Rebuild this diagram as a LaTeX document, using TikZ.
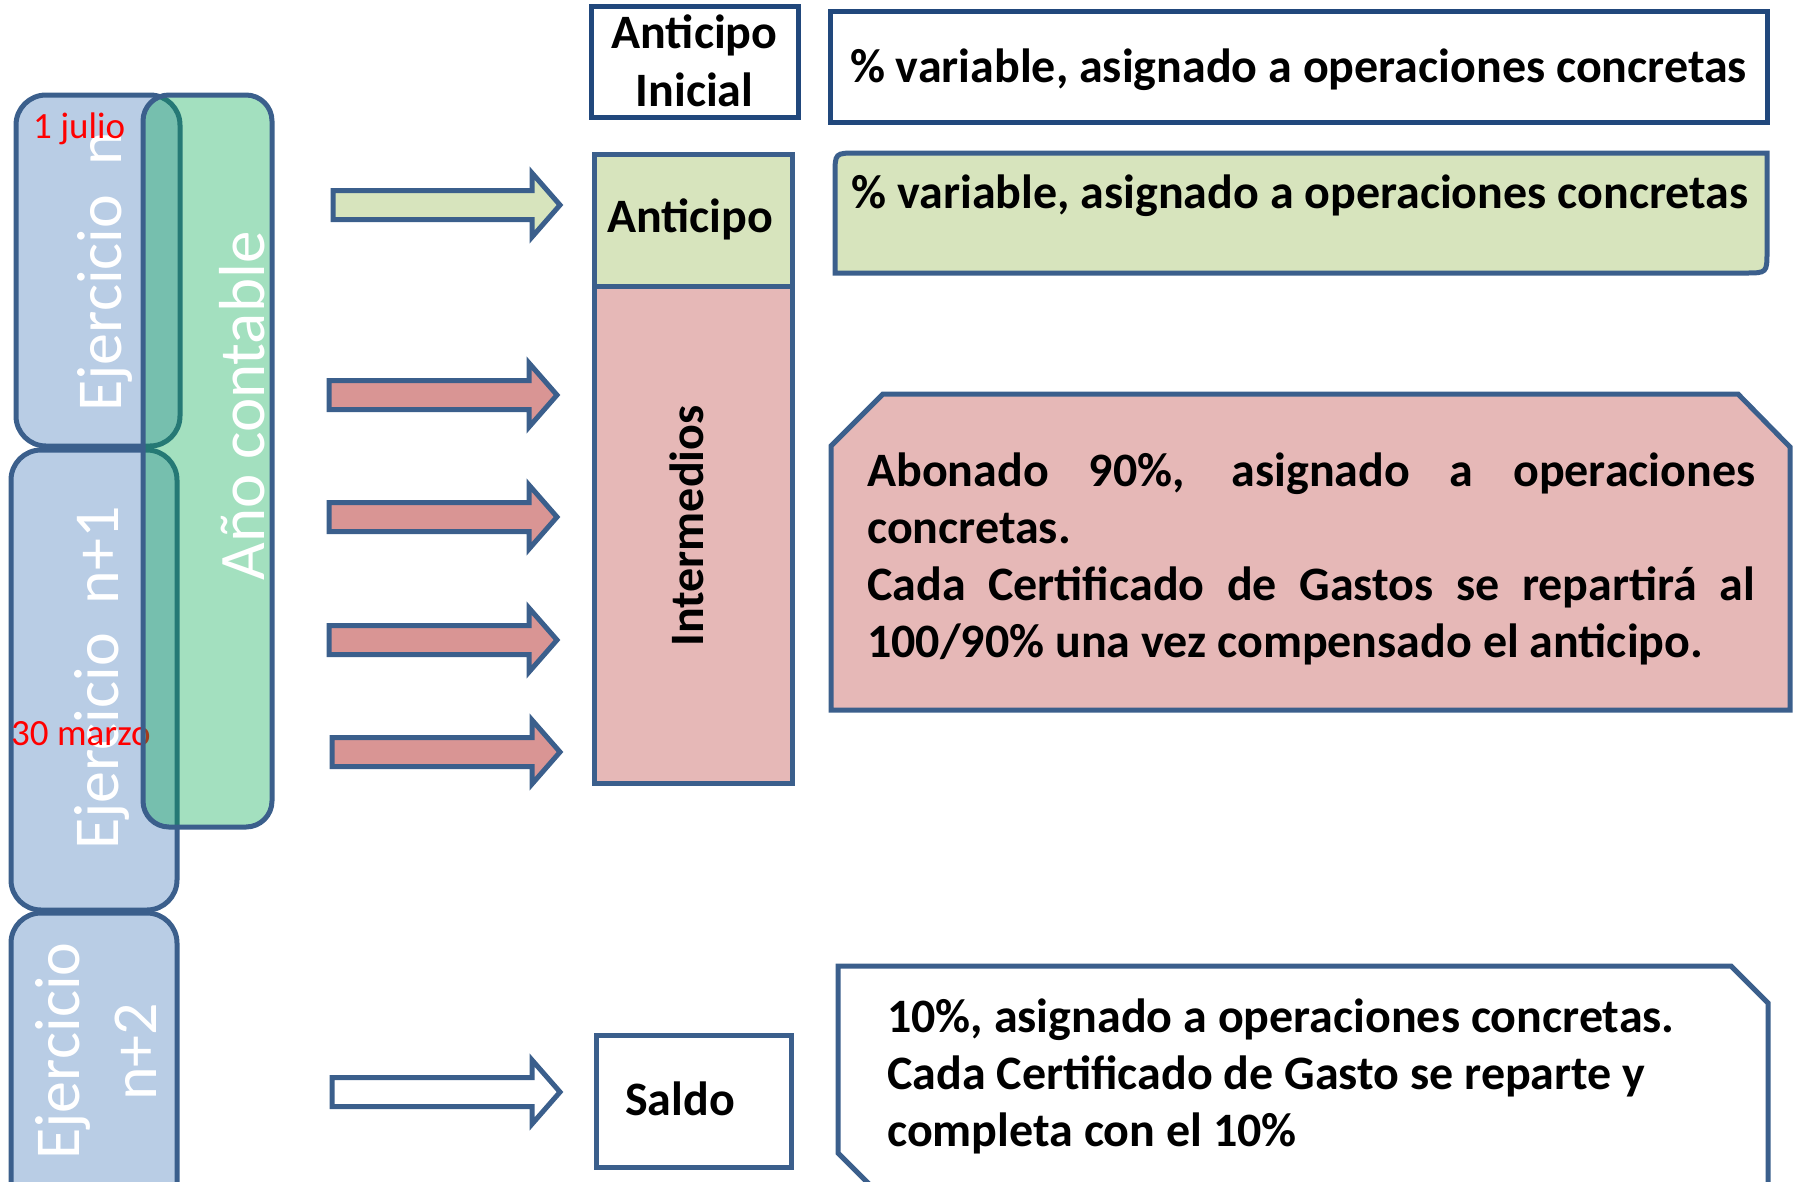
\documentclass[tikz,border=0pt]{standalone}
\usepackage{fontspec}
\setmainfont{Carlito}
\definecolor{bord}{RGB}{59,95,140}
\definecolor{bordd}{RGB}{33,72,124}
\definecolor{blfill}{RGB}{185,205,229}
\definecolor{grnA}{RGB}{0,168,78}
\definecolor{lgreen}{RGB}{215,228,189}
\definecolor{lpink}{RGB}{230,184,183}
\definecolor{dpink}{RGB}{217,149,148}
\tikzset{
 bline/.style={draw=bord, line width=5pt, line join=miter},
 ejer/.style={bline, fill=blfill, rounded corners=30pt, inner sep=0pt},
 anobox/.style={draw=bord, line width=5pt, fill=grnA, fill opacity=0.36, rounded corners=26pt, inner sep=0pt},
 sqbox/.style={bline, inner sep=0pt},
 wtxt/.style={text=white, font=\fontsize{64}{72}\selectfont, inner sep=0pt, rotate=90, anchor=base},
 rtxt/.style={text=red, font=\fontsize{37}{43}\selectfont, inner sep=0pt, anchor=base west},
 btxt/.style={font=\fontsize{48}{57}\selectfont\bfseries, inner sep=0pt, anchor=base},
}
\newcommand{\myarrow}[4]{%
 \draw[bline, fill=#1] (#3,#2-14.5) -- (#4-28,#2-14.5) -- (#4-28,#2-32) -- (#4,#2) -- (#4-28,#2+32) -- (#4-28,#2+14.5) -- (#3,#2+14.5) -- cycle;}
\begin{document}
\begin{tikzpicture}[x=1pt,y=-1pt]
\useasboundingbox (0,0) rectangle (1793,1181);
% left column
\node[ejer, minimum width=164pt, minimum height=351pt] (ejn) at (98,270.5) {};
\node[ejer, minimum width=166pt, minimum height=460pt] (ejn1) at (94,680) {};
\node[ejer, minimum width=166pt, minimum height=300pt] (ejn2) at (94,1063) {};
\node[wtxt] (ejnt) at (121,272) {Ejercicio\ \ n};
\node[wtxt] (ejn1t) at (118,678) {Ejercicio\ \ n+1};
\node[wtxt] (ejn2a) at (79,1051) {Ejercicio};
\node[wtxt] (ejn2b) at (156,1052) {n+2};
\node[rtxt] (jul) at (33,138) {1 julio};
\node[rtxt] (mar) at (11,745) {30 marzo};
\node[anobox, minimum width=129pt, minimum height=732pt] (ano) at (207.5,461) {};
\node[wtxt, font=\fontsize{65}{72}\selectfont] (anot) at (264,406) {Año contable};
% middle column
\node[sqbox, draw=bordd, fill=white, minimum width=207pt, minimum height=111pt] (antini) at (694.5,61.5) {};
\node[btxt] (antiniA) at (694.5,48) {Anticipo};
\node[btxt] (antiniB) at (694.5,106) {Inicial};
\node[sqbox, fill=lgreen, minimum width=198pt, minimum height=132pt] (anti) at (693,220) {};
\node[btxt] (antit) at (690,232) {Anticipo};
\node[sqbox, fill=lpink, minimum width=198pt, minimum height=497pt] (inter) at (693,534.5) {};
\node[btxt, rotate=90] (intert) at (703,526) {Intermedios};
\node[sqbox, fill=white, minimum width=195pt, minimum height=132pt] (saldo) at (693.5,1101) {};
\node[btxt, anchor=base west] (saldot) at (625,1115) {Saldo};
% block arrows
\myarrow{lgreen}{205}{333}{560}
\myarrow{dpink}{395}{329}{557}
\myarrow{dpink}{517}{329}{557}
\myarrow{dpink}{640}{329}{557}
\myarrow{dpink}{752}{332}{560}
\myarrow{white}{1092}{332}{560}
% right column
\node[sqbox, draw=bordd, fill=white, minimum width=937pt, minimum height=111pt] (topw) at (1298.5,66.5) {};
\node[btxt] (topwt) at (1298.5,82) {\% variable, asignado a operaciones concretas};
\draw[bline, fill=lgreen] (835,273) -- (835,175) .. controls (835,153) .. (857,153) -- (1767,153) -- (1767,251) .. controls (1767,273) .. (1745,273) -- cycle;
\node[btxt] (topgt) at (1300,208) {\% variable, asignado a operaciones concretas};
\draw[bline, fill=lpink] (831,446) -- (883,394) -- (1738,394) -- (1790,447) -- (1790,710) -- (831,710) -- cycle;
\node[btxt, anchor=base west] (pinkt) at (867,486) {\vtop{\hsize=888pt \parindent=0pt \baselineskip=57pt
\makebox[888pt][s]{Abonado 90\%, asignado a operaciones}\par
concretas.\par
\makebox[888pt][s]{Cada Certificado de Gastos se repartirá al}\par
100/90\% una vez compensado el anticipo.}};
\draw[bline, fill=white] (838,966) -- (1731,966) -- (1768,1003) -- (1768,1190) -- (875,1190) -- (838,1153) -- cycle;
\node[btxt, anchor=base west] (whitet) at (887,1032) {\vtop{\hsize=900pt \parindent=0pt \baselineskip=57pt \raggedright
10\%, asignado a operaciones concretas.\\
Cada Certificado de Gasto se reparte y\\
completa con el 10\%}};
\end{tikzpicture}
\end{document}
